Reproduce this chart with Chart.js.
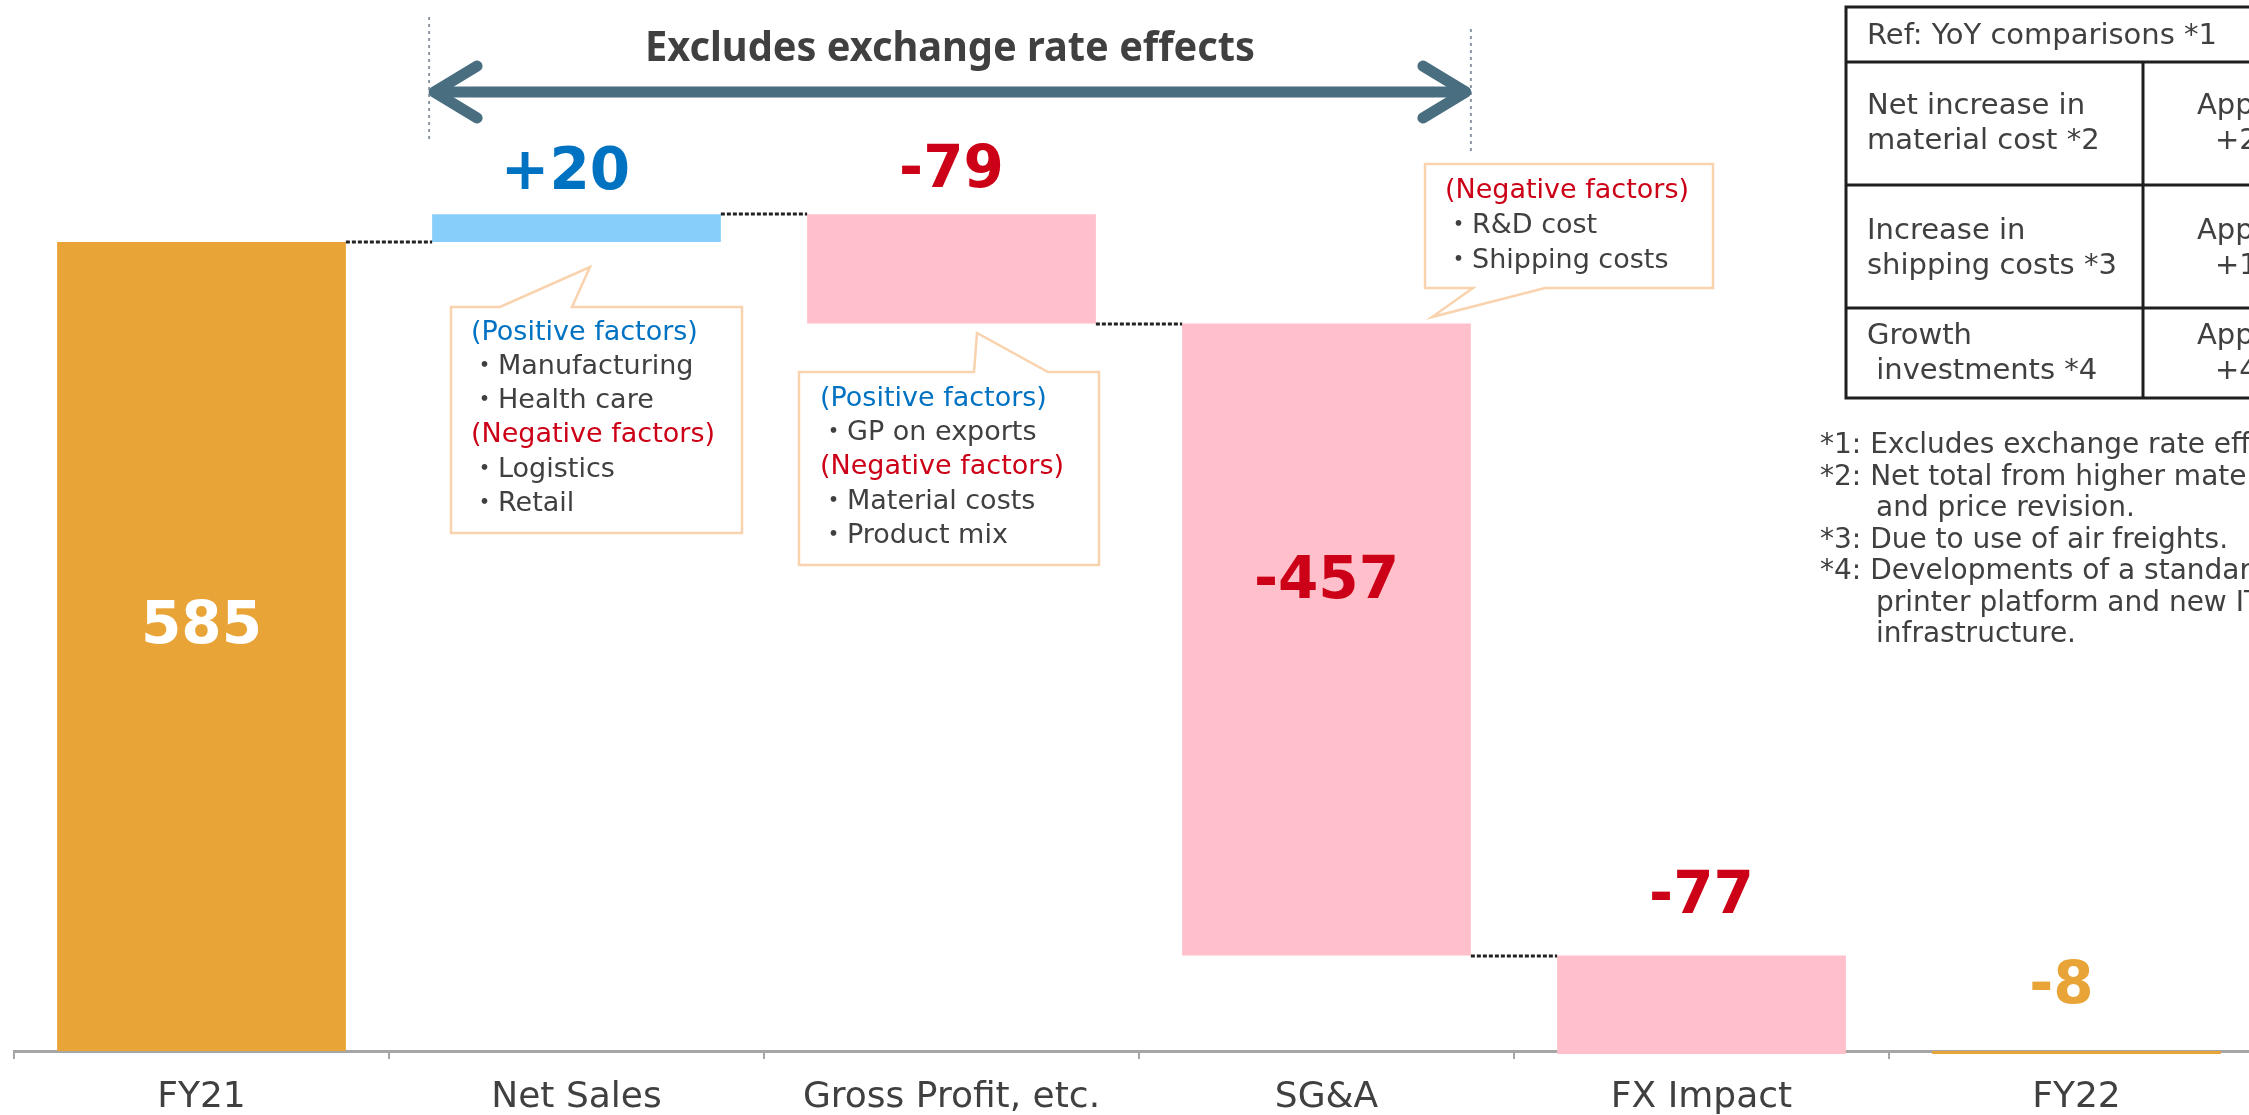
<!DOCTYPE html>
<html lang="en">
<head>
<meta charset="UTF-8">
<title>Operating income bridge FY21 - FY22</title>
<script src="https://cdn.jsdelivr.net/npm/chart.js"></script>
<style>
    html, body {
        margin: 0;
        padding: 0;
        background: #fff;
        overflow: hidden;
    }
    #wrap {
        width: 2249px;
        height: 1115px;
        overflow: hidden;
    }
    canvas { display: block; }
</style>
</head>
<body>
<div id="wrap"><canvas id="bridge" width="2300" height="1115"></canvas></div>

<script>
// bridge data
const categories = ['FY21', 'Net Sales', 'Gross Profit, etc.', 'SG&A', 'FX Impact', 'FY22'];
const changes = [585, 20, -79, -457, -77, -8];
const barKinds = ['total', 'step', 'step', 'step', 'step', 'total'];
const valueLabels = ['585', '+20', '-79', '-457', '-77', '-8'];
const yMax = 760;

// callout texts
const netSalesNotes = [
    ['(Positive factors)', 'pos'], ['・Manufacturing', 'item'], ['・Health care', 'item'],
    ['(Negative factors)', 'neg'], ['・Logistics', 'item'], ['・Retail', 'item']
];
const grossProfitNotes = [
    ['(Positive factors)', 'pos'], ['・GP on exports', 'item'],
    ['(Negative factors)', 'neg'], ['・Material costs', 'item'], ['・Product mix', 'item']
];
const sgaNotes = [
    ['(Negative factors)', 'neg'], ['・R&D cost', 'item'], ['・Shipping costs', 'item']
];

// reference table + footnotes
const tableTitle = 'Ref: YoY comparisons *1';
const tableRows = [
    [['Net increase in', 'material cost *2'], ['Approx.', '+2']],
    [['Increase in', 'shipping costs *3'], ['Approx.', '+1']],
    [['Growth', ' investments *4'], ['Approx.', '+4']]
];
const footnotes = [
    ['*1: Excludes exchange rate effects.', false],
    ['*2: Net total from higher material costs', false],
    ['and price revision.', true],
    ['*3: Due to use of air freights.', false],
    ['*4: Developments of a standardized', false],
    ['printer platform and new IT', true],
    ['infrastructure.', true]
];
const arrowTitle = 'Excludes exchange rate effects';

// floating bars from the running total
const ranges = [];
const levels = [];
let run = 0;
changes.forEach((v, i) => {
    if (barKinds[i] === 'total') {
        ranges.push([0, v]);
        run = v;
    } else {
        ranges.push([run, run + v]);
        run += v;
    }
    levels.push(run);
});

const ORANGE = '#E9A437';
const BLUE_BAR = '#87CEFA';
const PINK = '#FFC0CB';
const BLUE_TXT = '#0072C2';
const RED_TXT = '#CC0016';
const GRAY_TXT = '#404040';
const PEACH = '#F9D2AE';

const barColors = changes.map((v, i) => barKinds[i] === 'total' ? ORANGE : (v >= 0 ? BLUE_BAR : PINK));

// where each value label sits relative to its bar
const labelSpots = [
    { inside: 0.47, color: '#fff' },
    { above: 47, dx: -11, color: BLUE_TXT },
    { above: 49, color: RED_TXT },
    { inside: 0.4, color: RED_TXT },
    { above: 64, color: RED_TXT },
    { above: 69, dx: -15, color: ORANGE }
];

function textAt(ctx, str, x, cy, size, color, opts) {
    opts = opts || {};
    ctx.font = (opts.bold ? 'bold ' : '') + size + 'px ' + (opts.family || '"DejaVu Sans", "Noto Sans CJK JP"');
    ctx.fillStyle = color;
    ctx.textAlign = opts.align || 'left';
    ctx.textBaseline = 'alphabetic';
    if (opts.maxWidth) ctx.fillText(str, x, cy + size * 0.365, opts.maxWidth);
    else ctx.fillText(str, x, cy + size * 0.365);
}

function bubble(ctx, pts) {
    ctx.save();
    ctx.beginPath();
    ctx.moveTo(pts[0][0], pts[0][1]);
    for (let i = 1; i < pts.length; i++) ctx.lineTo(pts[i][0], pts[i][1]);
    ctx.closePath();
    ctx.fillStyle = '#fff';
    ctx.fill();
    ctx.strokeStyle = PEACH;
    ctx.lineWidth = 2.5;
    ctx.lineJoin = 'miter';
    ctx.stroke();
    ctx.restore();
}

function noteLines(ctx, notes, x, y0, step, size) {
    notes.forEach((n, i) => {
        const c = n[1] === 'pos' ? BLUE_TXT : (n[1] === 'neg' ? RED_TXT : GRAY_TXT);
        textAt(ctx, n[0], x, y0 + i * step, size, c);
    });
}

const annotations = {
    id: 'annotations',
    afterDraw(chart) {
        const ctx = chart.ctx;
        const ys = chart.scales.y;
        const bars = chart.getDatasetMeta(0).data;
        const edge = (el, side) => el.x + side * el.width / 2;

        ctx.save();

        // dashed connectors between bars
        ctx.strokeStyle = '#222';
        ctx.lineWidth = 3;
        ctx.setLineDash([4, 2]);
        for (let i = 0; i < 4; i++) {
            const y = Math.round(ys.getPixelForValue(levels[i]));
            ctx.beginPath();
            ctx.moveTo(edge(bars[i], 1), y);
            ctx.lineTo(edge(bars[i + 1], -1), y);
            ctx.stroke();
        }

        // value labels
        bars.forEach((el, i) => {
            const spot = labelSpots[i];
            const top = Math.min(el.y, el.base);
            const bottom = Math.max(el.y, el.base);
            const cy = spot.inside !== undefined ? top + spot.inside * (bottom - top) : top - spot.above;
            textAt(ctx, valueLabels[i], el.x + (spot.dx || 0), cy, 58, spot.color, { bold: true, align: 'center' });
        });

        // "excludes FX" span: dotted guides + double arrow
        const xa = edge(bars[1], -1) - 3;
        const xb = edge(bars[3], 1);
        ctx.strokeStyle = '#8C96A4';
        ctx.lineWidth = 2;
        ctx.setLineDash([3, 4]);
        ctx.beginPath();
        ctx.moveTo(xa, 17); ctx.lineTo(xa, 142);
        ctx.moveTo(xb, 29); ctx.lineTo(xb, 155);
        ctx.stroke();
        ctx.setLineDash([]);

        const ay = 92;
        ctx.strokeStyle = '#486E80';
        ctx.lineWidth = 11;
        ctx.lineCap = 'round';
        ctx.lineJoin = 'round';
        ctx.beginPath();
        ctx.moveTo(xa + 8, ay); ctx.lineTo(xb - 8, ay);
        ctx.stroke();
        ctx.beginPath();
        ctx.moveTo(xa + 48, ay - 26); ctx.lineTo(xa + 5, ay); ctx.lineTo(xa + 48, ay + 26);
        ctx.moveTo(xb - 48, ay - 26); ctx.lineTo(xb - 5, ay); ctx.lineTo(xb - 48, ay + 26);
        ctx.stroke();

        textAt(ctx, arrowTitle, (xa + xb) / 2, 46, 41, GRAY_TXT,
            { bold: true, align: 'center', family: '"Noto Sans", "DejaVu Sans"', maxWidth: 610 });

        // callouts
        bubble(ctx, [[451, 307], [500, 307], [590, 267], [572, 307], [742, 307], [742, 533], [451, 533]]);
        noteLines(ctx, netSalesNotes, 471, 330, 34.2, 27);

        bubble(ctx, [[799, 372], [974, 372], [977, 333], [1048, 372], [1099, 372], [1099, 565], [799, 565]]);
        noteLines(ctx, grossProfitNotes, 820, 396, 34.3, 27);

        bubble(ctx, [[1425, 164], [1713, 164], [1713, 288], [1545, 288], [1432, 317], [1473, 288], [1425, 288]]);
        noteLines(ctx, sgaNotes, 1445, 188, 35, 27);

        // reference table
        const tl = 1846, tr = 2310, tc = 2143;
        const rowY = [7, 62, 185, 308, 398];
        ctx.strokeStyle = '#1E1E1E';
        ctx.lineWidth = 3;
        ctx.lineCap = 'butt';
        ctx.beginPath();
        rowY.forEach(y => { ctx.moveTo(tl - 1.5, y); ctx.lineTo(tr, y); });
        ctx.moveTo(tl, rowY[0]); ctx.lineTo(tl, rowY[4]);
        ctx.moveTo(tc, rowY[1]); ctx.lineTo(tc, rowY[4]);
        ctx.stroke();

        textAt(ctx, tableTitle, 1867, 33, 29, GRAY_TXT);
        const rowText = [103, 228, 333];
        tableRows.forEach((r, i) => {
            textAt(ctx, r[0][0], 1867, rowText[i], 29, GRAY_TXT);
            textAt(ctx, r[0][1], 1867, rowText[i] + 35, 29, GRAY_TXT);
            textAt(ctx, r[1][0], 2197, rowText[i], 29, GRAY_TXT);
            textAt(ctx, r[1][1], 2215, rowText[i] + 35, 29, GRAY_TXT);
        });

        // footnotes
        footnotes.forEach((f, i) => {
            textAt(ctx, f[0], f[1] ? 1876 : 1820, 443 + i * 31.5, 28, GRAY_TXT);
        });

        ctx.restore();
    }
};

new Chart(document.getElementById('bridge'), {
    type: 'bar',
    data: {
        labels: categories,
        datasets: [{
            data: ranges,
            backgroundColor: barColors,
            borderWidth: 0,
            barPercentage: 0.77,
            categoryPercentage: 1,
            clip: { left: 0, top: 0, right: 0, bottom: 3 }
        }]
    },
    options: {
        responsive: false,
        animation: false,
        devicePixelRatio: 1,
        layout: { padding: { left: 14, right: 36, top: 0, bottom: 0 } },
        plugins: {
            legend: { display: false },
            tooltip: { enabled: false }
        },
        scales: {
            x: {
                z: 1,
                grid: { drawOnChartArea: false, tickLength: 8, color: '#A6A6A6', lineWidth: 2 },
                border: { color: '#A6A6A6', width: 3 },
                ticks: {
                    color: GRAY_TXT,
                    font: { family: '"DejaVu Sans"', size: 36, lineHeight: 1.2 },
                    padding: 17,
                    maxRotation: 0,
                    autoSkip: false
                },
                afterFit(scale) { scale.height = 64; }
            },
            y: { display: false, min: 0, max: yMax }
        }
    },
    plugins: [annotations]
});
</script>
</body>
</html>
